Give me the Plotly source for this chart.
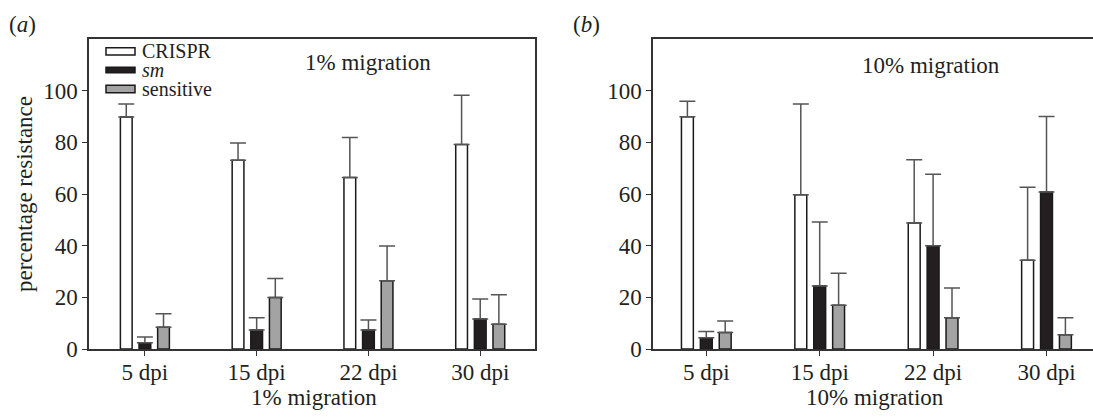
import plotly.graph_objects as go
from plotly.subplots import make_subplots

# ---- data ----
categories = ["5 dpi", "15 dpi", "22 dpi", "30 dpi"]

crispr_1 = [89.8, 73.1, 66.4, 79.2]
crispr_1_err = [5.0, 6.6, 15.5, 19.0]
sm_1 = [2.4, 7.4, 7.4, 11.6]
sm_1_err = [2.2, 4.7, 3.8, 7.8]
sens_1 = [8.4, 19.9, 26.4, 9.6]
sens_1_err = [5.2, 7.4, 13.5, 11.4]

crispr_10 = [89.9, 59.7, 48.8, 34.4]
crispr_10_err = [6.0, 35.1, 24.5, 28.2]
sm_10 = [4.4, 24.4, 40.0, 60.8]
sm_10_err = [2.4, 24.8, 27.6, 29.2]
sens_10 = [6.4, 16.9, 12.1, 5.5]
sens_10_err = [4.4, 12.4, 11.5, 6.6]

y_ticks = [0, 20, 40, 60, 80, 100]

# ---- styles ----
FONT = "Liberation Serif"
TXT = "#231f20"
AX = "#333333"
ERR = "#555555"
fills = {"CRISPR": "#ffffff", "sm": "#231f20", "sensitive": "#a3a3a3"}
names = {"CRISPR": "CRISPR", "sm": "<i>sm</i>", "sensitive": "sensitive"}

W, H = 1093, 419
L, R, T, B = 89, 0, 39, 70
PW = W - L - R
PH = H - T - B

def px2x(px):
    return (px - L) / PW

def py2y(py):
    return (H - B - py) / PH

fig = make_subplots(rows=1, cols=2, horizontal_spacing=0.05)

panels = [
    (1, [("CRISPR", crispr_1, crispr_1_err), ("sm", sm_1, sm_1_err), ("sensitive", sens_1, sens_1_err)]),
    (2, [("CRISPR", crispr_10, crispr_10_err), ("sm", sm_10, sm_10_err), ("sensitive", sens_10, sens_10_err)]),
]
for col, series in panels:
    for key, vals, errs in series:
        fig.add_trace(
            go.Bar(
                x=categories, y=vals, name=names[key], showlegend=False,
                marker=dict(color=fills[key], line=dict(color="#1a1a1a", width=1.5)),
                error_y=dict(type="data", symmetric=False, array=errs,
                             arrayminus=[0] * len(errs), color=ERR,
                             thickness=1.5, width=8),
            ),
            row=1, col=col,
        )

fig.update_layout(
    width=W, height=H,
    margin=dict(l=L, r=R, t=T, b=B, autoexpand=False),
    barmode="group", bargap=0.5, bargroupgap=0.37,
    plot_bgcolor="white", paper_bgcolor="white",
    font=dict(family=FONT, size=23, color=TXT),
)

common_x = dict(type="category", showgrid=False, zeroline=False,
                showline=True, linecolor=AX, linewidth=1.5,
                ticks="outside", ticklen=5, tickwidth=1.2, tickcolor=AX,
                tickfont=dict(size=23), ticklabelstandoff=-3,
                mirror=True)
common_y = dict(range=[0, 120], tickvals=y_ticks, showgrid=False, zeroline=False,
                showline=True, linecolor=AX, linewidth=1.5,
                ticks="outside", ticklen=5, tickwidth=1.2, tickcolor=AX,
                tickfont=dict(size=23))

dom_a = [0, px2x(535)]
dom_b = [px2x(653), 1.0]
fig.update_xaxes(common_x, row=1, col=1, domain=dom_a, range=[-0.5, 3.49])
fig.update_xaxes(common_x, row=1, col=2, domain=dom_b, range=[-0.47, 3.41])
fig.update_yaxes(common_y, row=1, col=1, mirror=True,
                 title=dict(text="percentage resistance", standoff=4, font=dict(size=23)))
fig.update_yaxes(common_y, row=1, col=2, mirror=False)

ann = [
    dict(text="(<i>a</i>)", x=px2x(22), y=py2y(24)),
    dict(text="(<i>b</i>)", x=px2x(586), y=py2y(24)),
    dict(text="1% migration", x=px2x(368), y=py2y(62)),
    dict(text="10% migration", x=px2x(931), y=py2y(65)),
    dict(text="1% migration", x=px2x(314), y=py2y(397)),
    dict(text="10% migration", x=px2x(875), y=py2y(397)),
]
for a in ann:
    fig.add_annotation(xref="paper", yref="paper", showarrow=False,
                       xanchor="center", yanchor="middle",
                       font=dict(size=23, family=FONT, color=TXT), **a)

# legend (drawn as key boxes + labels)
legend_rows = [("CRISPR", 51.3), ("sm", 70.0), ("sensitive", 89.0)]
for key, cy in legend_rows:
    hgt = 7.3 if key != "sm" else 5.4
    fig.add_shape(type="rect", xref="paper", yref="paper",
                  x0=px2x(106), x1=px2x(135), y0=py2y(cy + hgt / 2), y1=py2y(cy - hgt / 2),
                  fillcolor=fills[key], line=dict(color="#1a1a1a", width=1.5))
    fig.add_annotation(xref="paper", yref="paper", showarrow=False,
                       x=px2x(140), y=py2y(cy), xanchor="left", yanchor="middle",
                       text=names[key], font=dict(size=20, family=FONT, color=TXT))

fig.write_html("out.html", config={"displayModeBar": False},
               post_script="document.body.style.margin='0px';document.body.style.overflow='hidden';")
